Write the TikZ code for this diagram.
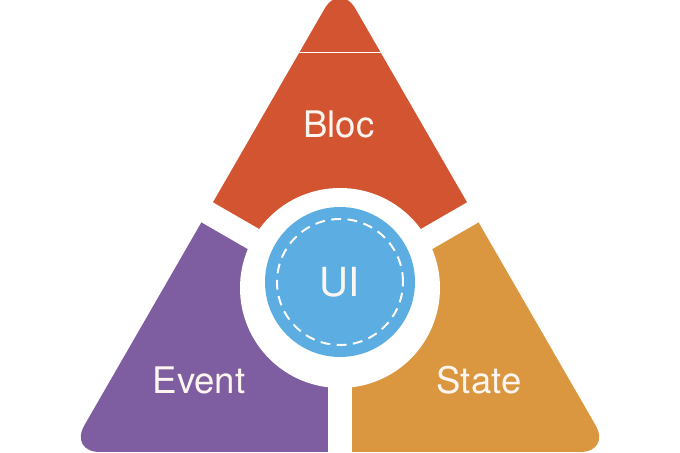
\documentclass[tikz,border=0pt]{standalone}
\usepackage{fontspec}
\setmainfont{TeX Gyre Heros}
\usepackage{tikz}

\definecolor{blocred}{RGB}{211,84,48}
\definecolor{eventpurple}{RGB}{126,94,160}
\definecolor{stateorange}{RGB}{219,150,64}
\definecolor{uiblue}{RGB}{91,173,226}
\definecolor{labelwhite}{RGB}{253,246,240}

\tikzset{
    partlabel/.style={text=labelwhite, font=\fontsize{26}{30}\selectfont, anchor=base, inner sep=0pt}
}

\begin{document}
\begin{tikzpicture}[x=0.025cm, y=0.025cm]
        % Fix the page
            \useasboundingbox (0,0) rectangle (680,453);
            \coordinate (hub) at (340,164);
            \coordinate (uicentre) at (340,171);

        % Draw the three parts of the triangle
            \begin{scope}
                \clip[rounded corners=0.775cm] (340,471) -- (69,1) -- (611,1) -- cycle;
                \fill[blocred] (hub) -- +(30:600) -- +(90:600) -- +(150:600) -- cycle;
                \fill[eventpurple] (hub) -- +(150:600) -- +(210:600) -- +(270:600) -- cycle;
                \fill[stateorange] (hub) -- +(270:600) -- +(330:600) -- +(30:600) -- cycle;
                \draw[white, line width=0.025cm] (200,400) -- (480,400);
            \end{scope}

        % Draw the gaps
            \draw[white, line width=0.575cm] (hub) -- +(30:300);
            \draw[white, line width=0.575cm] (hub) -- +(150:300);
            \draw[white, line width=0.575cm] (hub) -- +(270:200);
            \fill[white] (340,165) circle (100);

        % Draw the UI circle
            \fill[uiblue] (uicentre) circle (75);
            \draw[white, line width=1.4pt, dash pattern=on 7pt off 4.6pt] (uicentre) circle (63);

        % Put the labels
            \node[partlabel] (bloc) at (339,315) {Bloc};
            \node[partlabel] (event) at (199,59) {Event};
            \node[partlabel] (state) at (479,59) {State};
            \node[partlabel, font=\fontsize{28.5}{32}\selectfont] (ui) at (340,156) {UI};
    \end{tikzpicture}
\end{document}
